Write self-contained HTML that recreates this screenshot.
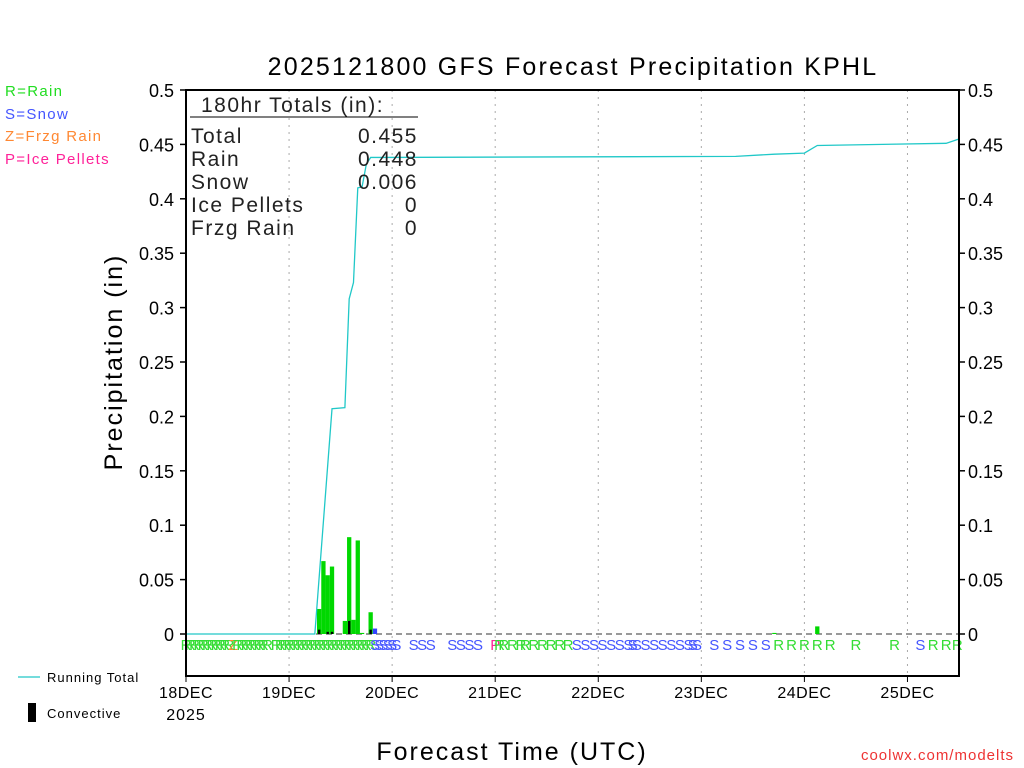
<!DOCTYPE html>
<html><head><meta charset="utf-8"><style>
html,body{margin:0;padding:0;background:#fff;}
svg{display:block;font-family:"Liberation Sans",sans-serif;}
</style></head><body>
<svg id="chart" width="1024" height="768" viewBox="0 0 1024 768">
<rect width="1024" height="768" fill="#fff"/>
<text x="573" y="75" font-size="25" text-anchor="middle" fill="#000" letter-spacing="2.2">2025121800 GFS Forecast Precipitation KPHL</text>
<g id="grid"></g>
<g id="bars"></g>
<g id="types" font-size="15"></g>
<polyline id="total-line" fill="none" stroke="#20c8c8" stroke-width="1.3"/>
<g id="axes"></g>
<g font-size="21" fill="#222" letter-spacing="1.5">
<text x="201" y="112">180hr Totals (in):</text>
<line x1="190" y1="117" x2="418" y2="117" stroke="#000" stroke-width="1"/>
<text x="191" y="143">Total</text><text x="418" y="143" text-anchor="end">0.455</text>
<text x="191" y="166">Rain</text><text x="418" y="166" text-anchor="end">0.448</text>
<text x="191" y="189">Snow</text><text x="418" y="189" text-anchor="end">0.006</text>
<text x="191" y="212">Ice Pellets</text><text x="418" y="212" text-anchor="end">0</text>
<text x="191" y="235">Frzg Rain</text><text x="418" y="235" text-anchor="end">0</text>
</g>
<g font-size="15" letter-spacing="1.3">
<text x="5" y="96" fill="#22dd22">R=Rain</text>
<text x="5" y="119" fill="#4455ff">S=Snow</text>
<text x="5" y="141" fill="#ff8833">Z=Frzg Rain</text>
<text x="5" y="164" fill="#ff2299">P=Ice Pellets</text>
</g>
<g font-size="13" letter-spacing="1">
<line x1="18" y1="677" x2="40" y2="677" stroke="#20c8c8" stroke-width="1.3"/>
<text x="47" y="682">Running Total</text>
<rect x="28" y="703" width="8" height="19" fill="#000"/>
<text x="47" y="718">Convective</text>
</g>
<text transform="translate(122,362) rotate(-90)" font-size="25" text-anchor="middle" letter-spacing="2">Precipitation (in)</text>
<text x="512" y="760" font-size="25" text-anchor="middle" letter-spacing="2">Forecast Time (UTC)</text>
<text x="186" y="720" font-size="16" text-anchor="middle" letter-spacing="1">2025</text>
<text x="1014" y="760" font-size="15" fill="#ee3333" text-anchor="end" letter-spacing="1">coolwx.com/modelts</text>
</svg>
<script>
const yTicks=[0,0.05,0.1,0.15,0.2,0.25,0.3,0.35,0.4,0.45,0.5];
const yTickLabels=["0","0.05","0.1","0.15","0.2","0.25","0.3","0.35","0.4","0.45","0.5"];
const dayLabels=["18DEC","19DEC","20DEC","21DEC","22DEC","23DEC","24DEC","25DEC"];
const barHours=[31,32,33,34,37,38,39,40,41,43,44,137,147];
const barValues=[0.023,0.067,0.054,0.062,0.012,0.089,0.013,0.086,0.001,0.020,0.005,0.001,0.007];
const barTypes=["R","R","R","R","R","R","R","R","R","R","S","R","R"];
const convHours=[31,33,34,38,43];
const convValues=[0.004,0.002,0.002,0.012,0.004];
const totalHours=[0,30,34,37,38,39,40,41,42,43,128,137,144,147,177,180];
const totalValues=[0,0,0.207,0.208,0.308,0.323,0.41,0.411,0.432,0.438,0.439,0.441,0.442,0.449,0.451,0.455];
const typeHours=[0,1,2,3,4,5,6,7,8,9,10,11,12,13,14,15,16,17,18,19,21,22,23,24,25,26,27,28,29,30,31,32,33,34,35,36,37,38,39,40,41,42,43,44,45,46,47,48,49,53,55,57,62,64,66,68,72,73,74,76,78,79,81,83,85,87,89,91,93,95,97,99,101,103,104,105,107,109,111,113,115,117,118,119,123,126,129,132,135,138,141,144,147,150,156,165,171,174,177,179.6];
const typeLetters="RRRRRRRRRRRZRRRRRRRRRRRRRRRRRRRRRRRRRRRRRRRSSSSSSSSSSSSSPRRRRRRRRRRSSSSSSSSSSSSSSSSSSSSSSRRRRRRRSRRR";
const NS="http://www.w3.org/2000/svg";
const X0=186,X1=959,Y0=634,YT=90,HOURS=180;
const xs=h=>X0+(X1-X0)*h/HOURS;
const ys=v=>Y0-(Y0-YT)*v/0.5;
const colors={R:"#00d800",S:"#3344ff",Z:"#ff8833",P:"#ff2299"};
const tcolors={R:"#33dd33",S:"#4455ff",Z:"#ff8833",P:"#ff2299"};
function mk(tag,attrs,parent){const e=document.createElementNS(NS,tag);for(const k in attrs)e.setAttribute(k,attrs[k]);parent.appendChild(e);return e;}
const grid=document.getElementById('grid'),axes=document.getElementById('axes'),bars=document.getElementById('bars'),types=document.getElementById('types');
dayLabels.forEach((d,i)=>{
  const x=xs(i*24);
  if(i>0){const g=mk('line',{x1:x,y1:YT,x2:x,y2:676,stroke:'#aaa','stroke-dasharray':'2,5'},grid);
  
  }
  mk('line',{x1:x,y1:676,x2:x,y2:682,stroke:'#000'},axes);
  const l=mk('text',{x:x,y:698,'font-size':16,'text-anchor':'middle','letter-spacing':0.5},axes);l.textContent=d;
  
  
});
yTicks.forEach((v,i)=>{
  const y=ys(v);
  mk('line',{x1:X0-6,y1:y,x2:X0,y2:y,stroke:'#000','stroke-width':1.5},axes);
  mk('line',{x1:X1,y1:y,x2:X1+6,y2:y,stroke:'#000','stroke-width':1.5},axes);
  const a=mk('text',{x:174,y:y+7,'font-size':18,'text-anchor':'end'},axes);a.textContent=yTickLabels[i];
  
  
  const b=mk('text',{x:968,y:y+7,'font-size':18},axes);b.textContent=yTickLabels[i];
  
  
});
mk('rect',{x:X0,y:YT,width:X1-X0,height:676-YT,fill:'none',stroke:'#000','stroke-width':2},axes);
mk('line',{x1:X0,y1:Y0,x2:X1,y2:Y0,stroke:'#333','stroke-dasharray':'6,4'},grid);
const bw=xs(1)-xs(0);
barHours.forEach((h,i)=>{
  const r=mk('rect',{x:xs(h)-bw/2,y:ys(barValues[i]),width:bw,height:Y0-ys(barValues[i]),fill:colors[barTypes[i]]},bars);
  
  
});
convHours.forEach((h,i)=>{
  const r=mk('rect',{x:xs(h)-1.2,y:ys(convValues[i]),width:2.4,height:Y0-ys(convValues[i]),fill:'#000'},bars);
  
  
});
typeHours.forEach((h,i)=>{
  const c=typeLetters[i];
  const t=mk('text',{x:xs(h),y:650,'text-anchor':'middle',fill:tcolors[c]},types);t.textContent=c;
  
  
});
document.getElementById('total-line').setAttribute('points',totalHours.map((h,i)=>xs(h)+','+ys(totalValues[i])).join(' '));
</script>
</body></html>
